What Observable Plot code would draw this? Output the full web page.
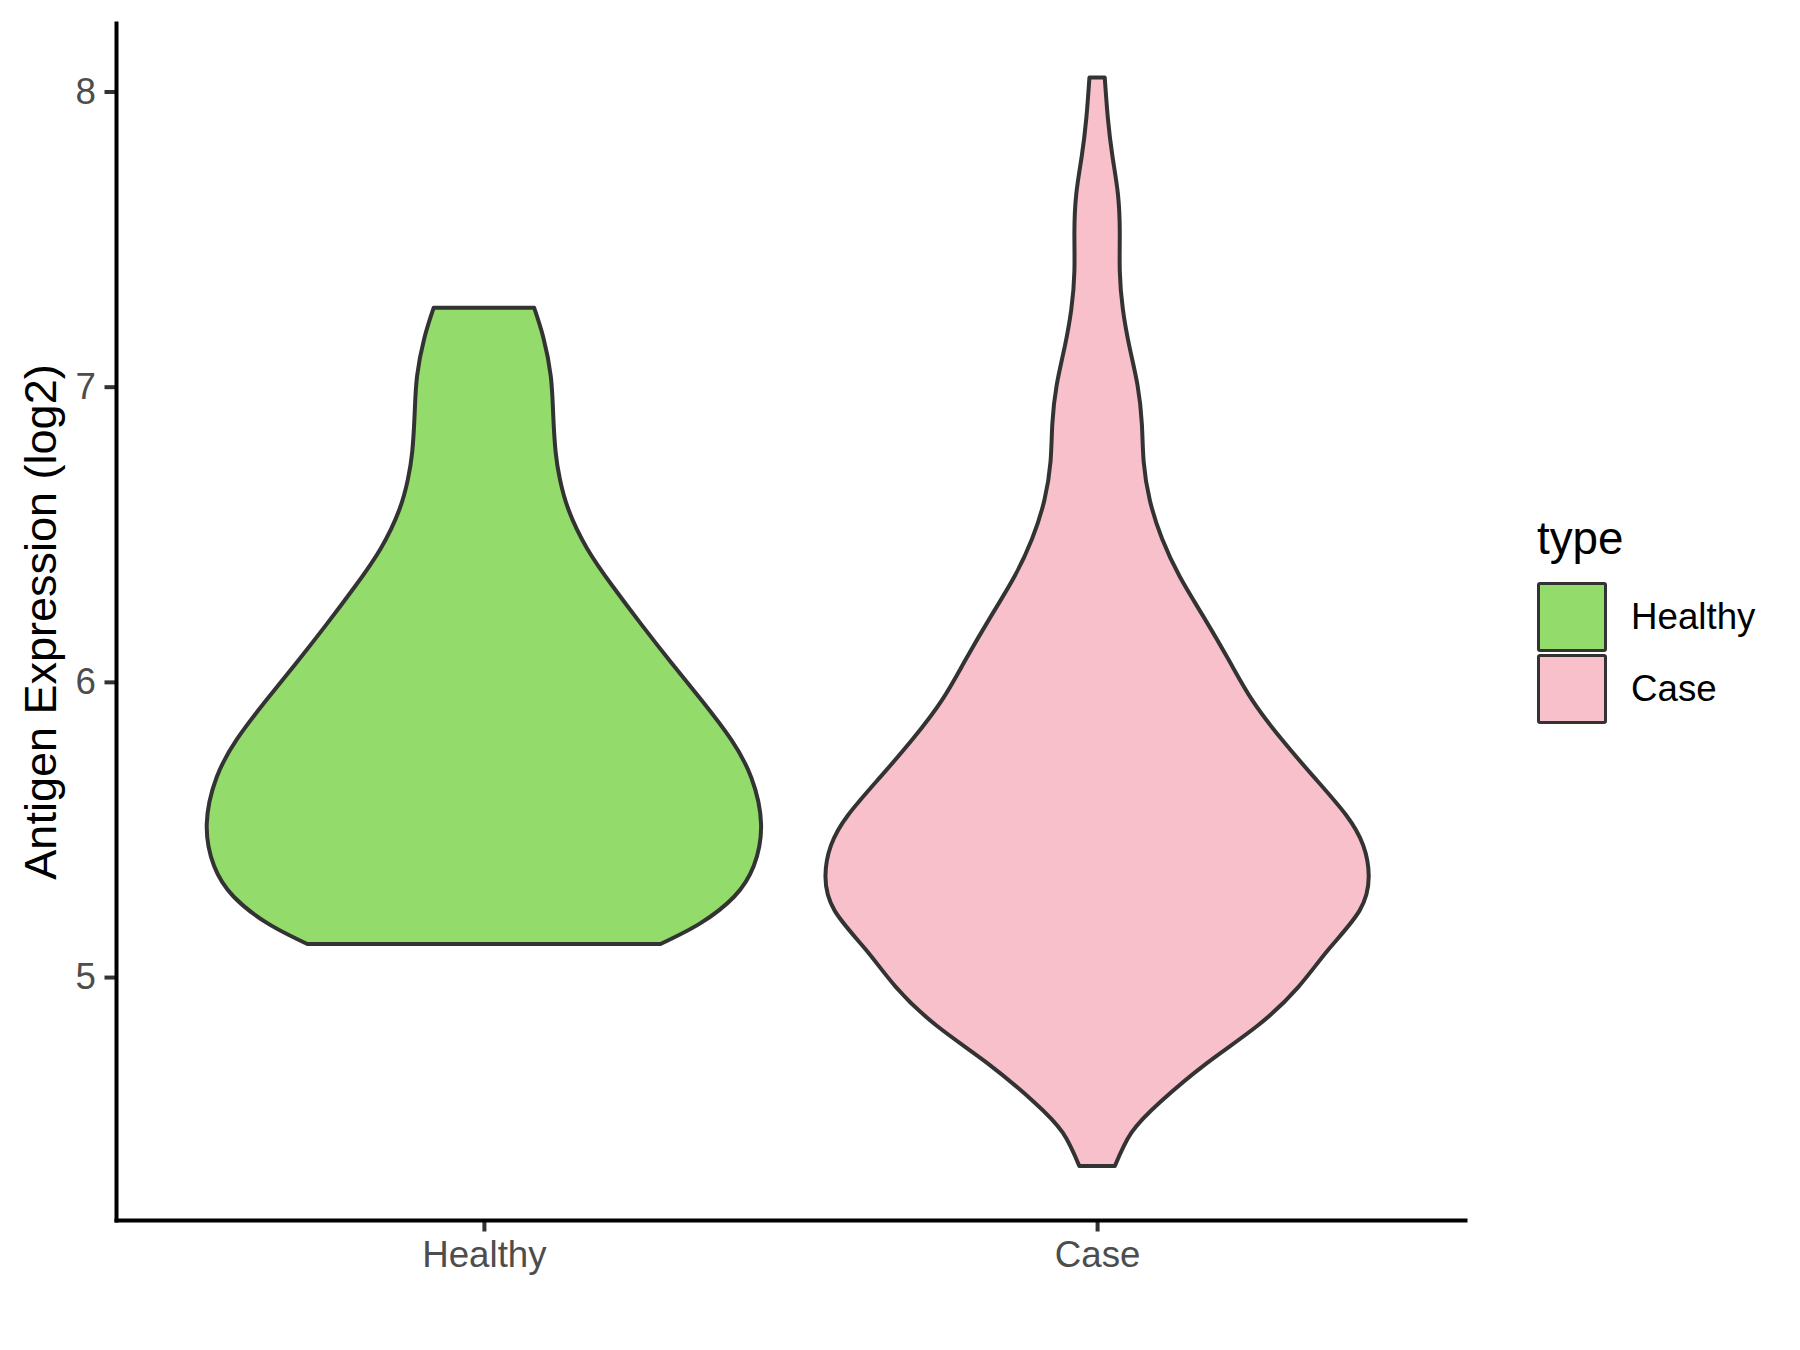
<!DOCTYPE html>
<html>
<head>
<meta charset="utf-8">
<script src="https://cdn.jsdelivr.net/npm/d3@7"></script>
<script src="https://cdn.jsdelivr.net/npm/@observablehq/plot@0.6"></script>
<style>
  html, body { margin: 0; padding: 0; background: #fff; }
  #wrap { position: relative; width: 1800px; height: 1350px; font-family: "Liberation Sans", Arial, sans-serif; }
  #legend { position: absolute; left: 1537px; top: 516px; }
  #legend .title { font-size: 45.8px; line-height: 1; color: #000; height: 65px; }
  #legend .item { display: flex; align-items: center; height: 72px; }
  #legend .key { width: 70px; height: 70px; box-sizing: border-box; border: 3.8px solid #333; border-radius: 3px; }
  #legend .lab { font-size: 36.7px; color: #000; margin-left: 24px; }
</style>
</head>
<body>
<div id="wrap"></div>
<script>
// ---- data ----
const categories = ["Healthy", "Case"];
const fillColors = ["#93DB6A", "#F8C0CB"];
const yTicks = [5, 6, 7, 8];
const yDomain = [4.177, 8.232];
const yTitle = "Antigen Expression (log2)";
const legendTitle = "type";

// violin outline: expression levels and half-widths (x units) for each group
const healthyLevels = [5.112, 5.181, 5.272, 5.376, 5.518, 5.676, 5.805, 5.935, 6.064, 6.194, 6.324, 6.453, 6.583, 6.686, 6.778, 6.906, 7.036, 7.166, 7.267];
const healthyHalfWidths = [0.288, 0.352, 0.408, 0.440, 0.452, 0.436, 0.403, 0.356, 0.306, 0.257, 0.210, 0.168, 0.138, 0.124, 0.117, 0.113, 0.109, 0.097, 0.082];

const caseLevels = [4.360, 4.473, 4.577, 4.707, 4.836, 4.966, 5.095, 5.225, 5.342, 5.446, 5.549, 5.679, 5.808, 5.938, 6.073, 6.226, 6.356, 6.485, 6.615, 6.745, 6.874, 7.004, 7.133, 7.263, 7.392, 7.522, 7.652, 7.781, 7.911, 8.047];
const caseHalfWidths = [0.029, 0.056, 0.103, 0.178, 0.262, 0.328, 0.378, 0.428, 0.443, 0.434, 0.406, 0.353, 0.300, 0.253, 0.215, 0.172, 0.135, 0.106, 0.086, 0.076, 0.073, 0.066, 0.053, 0.042, 0.037, 0.037, 0.034, 0.025, 0.0175, 0.0125];

// ---- build table ----
const levels = [healthyLevels, caseLevels];
const halfWidths = [healthyHalfWidths, caseHalfWidths];
const rows = categories.flatMap((c, i) =>
  levels[i].map((y, j) => ({type: c, y, x1: i + 1 - halfWidths[i][j], x2: i + 1 + halfWidths[i][j]}))
);

const chart = Plot.plot({
  width: 1800,
  height: 1350,
  marginLeft: 116,
  marginRight: 335,
  marginTop: 23,
  marginBottom: 130,
  style: {fontFamily: "'Liberation Sans', Arial, sans-serif", background: "#fff", overflow: "visible"},
  x: {domain: [0.4, 2.6], axis: null},
  y: {domain: yDomain, axis: null},
  color: {domain: categories, range: fillColors},
  marks: [
    Plot.areaX(rows, {y: "y", x1: "x1", x2: "x2", z: "type", fill: "type", stroke: "#333333", strokeWidth: 4, strokeLinejoin: "round", curve: "natural"}),
    Plot.axisY({ticks: yTicks, tickSize: 11.5, tickPadding: 9.2, tickFormat: d => String(d), fontSize: 36.7, fill: "#4D4D4D", stroke: "#333333", strokeWidth: 4, label: null}),
    Plot.axisY({ticks: [], tickSize: 0, label: yTitle, labelAnchor: "center", labelArrow: false, labelOffset: 92, fontSize: 45, fill: "#000"}),
    Plot.axisX({ticks: [1, 2], tickSize: 11.5, tickPadding: 9.2, tickFormat: d => categories[d - 1], fontSize: 36.7, fill: "#4D4D4D", stroke: "#333333", strokeWidth: 4, label: null}),
    Plot.frame({anchor: "left", stroke: "#000", strokeWidth: 4}),
    Plot.frame({anchor: "bottom", stroke: "#000", strokeWidth: 4})
  ]
});

const wrap = document.getElementById("wrap");
wrap.appendChild(chart);

// legend
const legend = document.createElement("div");
legend.id = "legend";
const t = document.createElement("div");
t.className = "title";
t.textContent = legendTitle;
legend.appendChild(t);
categories.forEach((c, i) => {
  const item = document.createElement("div");
  item.className = "item";
  const key = document.createElement("div");
  key.className = "key";
  key.style.background = fillColors[i];
  const lab = document.createElement("div");
  lab.className = "lab";
  lab.textContent = c;
  item.appendChild(key);
  item.appendChild(lab);
  legend.appendChild(item);
});
wrap.appendChild(legend);
</script>
</body>
</html>
